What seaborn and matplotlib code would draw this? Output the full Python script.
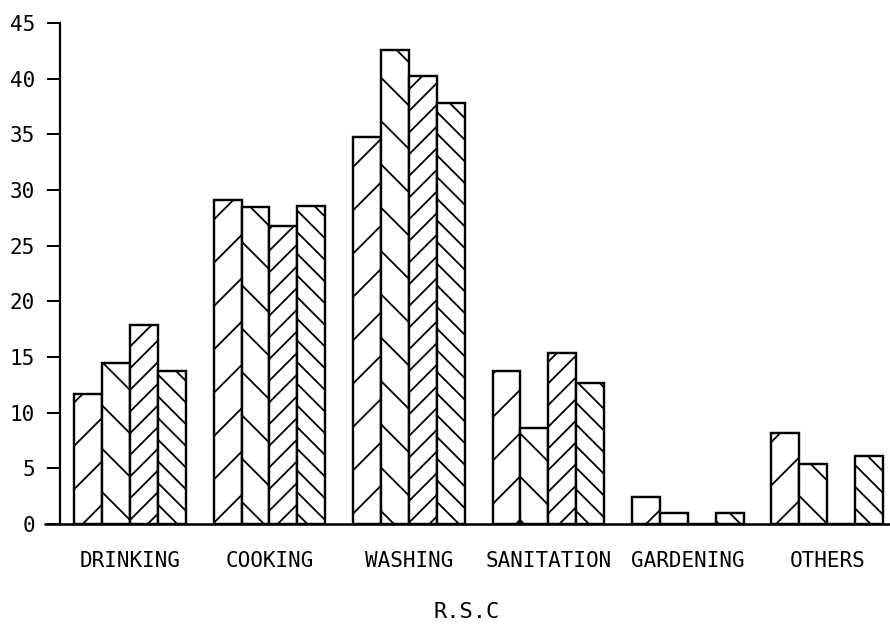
"""Grouped hatched bar chart of water use by purpose (R.S.C)."""

import numpy as np
import pandas as pd
import seaborn as sns
import matplotlib.pyplot as plt

# ── Data ──────────────────────────────────────────────────────────────────────

CATEGORIES = ['DRINKING', 'COOKING', 'WASHING', 'SANITATION', 'GARDENING', 'OTHERS']
SERIES = ['S1', 'S2', 'S3', 'S4']

S1 = [11.7, 29.1, 34.8, 13.7, 2.4, 8.2]
S2 = [14.5, 28.5, 42.6, 8.6, 1.0, 5.4]
S3 = [17.9, 26.8, 40.2, 15.4, 0.0, 0.0]
S4 = [13.7, 28.6, 37.8, 12.7, 1.0, 6.1]

Y_TICKS = [0, 5, 10, 15, 20, 25, 30, 35, 40, 45]
Y_TICK_LABELS = ['0', '5', '10', '15', '20', '25', '30', '35', '40', '45']
X_LABEL = 'R.S.C'

# ── Styling ───────────────────────────────────────────────────────────────────

# The dpi sets matplotlib's hatch spacing in pixels; this value gets close
# to the plotter hatching of the original. Sizes below are given in pixels.
DPI = 130
W_PX, H_PX = 890, 630
HATCHES = ['/', '\\', '//', '\\\\']
FONT = ['DejaVu Sans Mono']


def pt(px):
    return px * 72.0 / DPI


def plot(out='out.png'):
    sns.set_theme(style='white')
    plt.rcParams['font.family'] = FONT
    plt.rcParams['hatch.linewidth'] = pt(1.8)
    plt.rcParams['hatch.color'] = 'black'
    plt.rcParams['text.color'] = 'black'
    plt.rcParams['axes.labelcolor'] = 'black'
    plt.rcParams['xtick.color'] = 'black'
    plt.rcParams['ytick.color'] = 'black'

    values = [S1, S2, S3, S4]
    df = pd.DataFrame({
        'category': np.repeat([CATEGORIES], len(SERIES), axis=0).ravel(),
        'series': np.repeat(SERIES, len(CATEGORIES)),
        'value': np.concatenate(values),
    })

    fig = plt.figure(figsize=(W_PX / DPI, H_PX / DPI), dpi=DPI)
    ax = fig.add_axes([60 / W_PX, 1 - 524 / H_PX, 830 / W_PX, (524 - 23) / H_PX])

    sns.barplot(data=df, x='category', y='value', hue='series',
                order=CATEGORIES, hue_order=SERIES, width=0.8,
                legend=False, ax=ax, errorbar=None)

    for cont, hatch in zip(ax.containers, HATCHES):
        for bar in cont:
            bar.set_facecolor('white')
            bar.set_edgecolor('black')
            bar.set_linewidth(pt(2.4))
            bar.set_hatch(hatch)

    ax.set_ylim(0, 45)
    ax.set_xlim(-0.502, 5.45)
    ax.set_yticks(Y_TICKS, Y_TICK_LABELS)

    for side in ('top', 'right', 'bottom'):
        ax.spines[side].set_visible(False)
    ax.spines['left'].set_linewidth(pt(2.2))
    ax.spines['left'].set_color('black')
    # baseline runs a little left of the y axis, as in the original
    ax.axhline(0, xmin=-0.018, xmax=1, color='black', lw=pt(2.6), clip_on=False)

    ax.tick_params(axis='y', direction='out', length=pt(13), width=pt(2),
                   pad=pt(12), labelsize=pt(21), left=True)
    ax.tick_params(axis='x', length=0, pad=pt(27), labelsize=pt(21))
    ax.set_xlabel(X_LABEL, fontsize=pt(22))
    ax.xaxis.set_label_coords(0.49, -0.155)
    ax.set_ylabel('')

    fig.savefig(out, dpi=DPI)


if __name__ == '__main__':
    plot()
